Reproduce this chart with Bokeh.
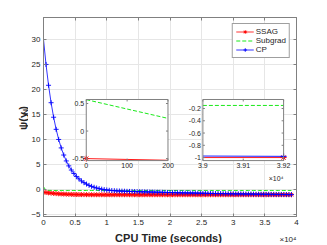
import math
import numpy as np
from bokeh.plotting import figure
from bokeh.layouts import row, column
from bokeh.models import Range1d, LinearAxis, FixedTicker, Legend, LegendItem
from bokeh.core.properties import value
from bokeh.embed import file_html
from bokeh.resources import INLINE

# ---------------- data ----------------
cpu_time = [0, 400, 800, 1200, 1600, 2000, 2400, 2800, 3200, 3600,
            4000, 4400, 4800, 5200, 5600, 6000, 6400, 6800, 7200, 7600,
            8000, 8400, 8800, 9200, 9600, 10000, 10400, 10800, 11200, 11600,
            12000, 12400, 12800, 13200, 13600, 14000, 14400, 14800, 15200, 15600,
            16000, 16400, 16800, 17200, 17600, 18000, 18400, 18800, 19200, 19600,
            20000, 20400, 20800, 21200, 21600, 22000, 22400, 22800, 23200, 23600,
            24000, 24400, 24800, 25200, 25600, 26000, 26400, 26800, 27200, 27600,
            28000, 28400, 28800, 29200, 29600, 30000, 30400, 30800, 31200, 31600,
            32000, 32400, 32800, 33200, 33600, 34000, 34400, 34800, 35200, 35600,
            36000, 36400, 36800, 37200, 37600, 38000, 38400, 38800, 39200]

ssag = [-0.50, -0.56, -0.63, -0.69, -0.74, -0.78, -0.82, -0.85, -0.88, -0.90,
        -0.92, -0.94, -0.95, -0.96, -0.97, -0.98, -0.98, -0.99, -0.99, -1.00,
        -1.00, -1.00, -1.00, -1.00, -1.00, -1.00, -1.00, -1.00, -1.00, -1.00,
        -1.00, -1.00, -1.00, -1.00, -1.00, -1.00, -1.00, -1.00, -1.00, -1.00,
        -1.00, -1.00, -1.00, -1.00, -1.00, -1.00, -1.00, -1.00, -1.00, -1.00,
        -1.00, -1.00, -1.00, -1.00, -1.00, -1.00, -1.00, -1.00, -1.00, -1.00,
        -1.00, -1.00, -1.00, -1.00, -1.00, -1.00, -1.00, -1.00, -1.00, -1.00,
        -1.00, -1.00, -1.00, -1.00, -1.00, -1.00, -1.00, -1.00, -1.00, -1.00,
        -1.00, -1.00, -1.00, -1.00, -1.00, -1.00, -1.00, -1.00, -1.00, -1.00,
        -1.00, -1.00, -1.00, -1.00, -1.00, -1.00, -1.00, -1.00, -1.00]

subgrad = [0.57, -0.11, -0.13, -0.14, -0.15, -0.15, -0.15, -0.15, -0.15, -0.15,
           -0.15, -0.15, -0.15, -0.15, -0.15, -0.15, -0.15, -0.15, -0.15, -0.15,
           -0.15, -0.15, -0.15, -0.15, -0.15, -0.15, -0.15, -0.15, -0.15, -0.15,
           -0.15, -0.15, -0.15, -0.15, -0.15, -0.15, -0.15, -0.15, -0.15, -0.15,
           -0.15, -0.15, -0.15, -0.15, -0.15, -0.15, -0.15, -0.15, -0.15, -0.15,
           -0.15, -0.15, -0.15, -0.15, -0.15, -0.15, -0.15, -0.15, -0.15, -0.15,
           -0.15, -0.15, -0.15, -0.15, -0.15, -0.15, -0.15, -0.15, -0.15, -0.15,
           -0.15, -0.15, -0.15, -0.15, -0.15, -0.15, -0.15, -0.15, -0.15, -0.15,
           -0.15, -0.15, -0.15, -0.15, -0.15, -0.15, -0.15, -0.15, -0.15, -0.15,
           -0.15, -0.15, -0.15, -0.15, -0.15, -0.15, -0.15, -0.15, -0.15]

cp = [30.00, 25.02, 20.86, 17.38, 14.48, 12.06, 10.04, 8.35, 6.93, 5.75,
      4.76, 3.93, 3.24, 2.65, 2.17, 1.75, 1.41, 1.12, 0.87, 0.67,
      0.49, 0.34, 0.21, 0.11, 0.02, -0.05, -0.11, -0.16, -0.20, -0.23,
      -0.26, -0.28, -0.30, -0.32, -0.34, -0.35, -0.37, -0.38, -0.40, -0.41,
      -0.43, -0.44, -0.46, -0.47, -0.49, -0.50, -0.51, -0.52, -0.54, -0.55,
      -0.56, -0.57, -0.58, -0.60, -0.61, -0.62, -0.63, -0.64, -0.65, -0.66,
      -0.67, -0.69, -0.70, -0.71, -0.72, -0.73, -0.74, -0.75, -0.76, -0.77,
      -0.77, -0.78, -0.79, -0.80, -0.81, -0.82, -0.83, -0.84, -0.84, -0.85,
      -0.86, -0.87, -0.87, -0.88, -0.89, -0.90, -0.90, -0.91, -0.91, -0.92,
      -0.93, -0.93, -0.94, -0.94, -0.95, -0.95, -0.96, -0.97, -0.98]

series_names = ["SSAG", "Subgrad", "CP"]

x_ticks = [0, 5000, 10000, 15000, 20000, 25000, 30000, 35000, 40000]
x_tick_labels = ["0", "0.5", "1", "1.5", "2", "2.5", "3", "3.5", "4"]
y_ticks = [-5, 0, 5, 10, 15, 20, 25, 30]
x_multiplier = "\u00d710\u2074"
x_title = "CPU Time (seconds)"
y_title_parts = ["\u03c8(y", "N", ")"]

main_xlim = [0, 40000]
main_ylim = [-5.35, 34.4]

inset1_xlim = [0, 200]
inset1_ylim = [-0.536, 0.573]
inset1_xticks = [0, 100, 200]
inset1_xtick_labels = ["0", "100", "200"]
inset1_yticks = [-0.5, 0, 0.5]
inset1_ytick_labels = ["-0.5", "0", "0.5"]

inset2_xlim = [39000, 39200]
inset2_ylim = [-1.049, -0.053]
inset2_xticks = [39000, 39100, 39200]
inset2_xtick_labels = ["3.9", "3.91", "3.92"]
inset2_yticks = [-1, -0.8, -0.6, -0.4, -0.2]
inset2_ytick_labels = ["-1", "-0.8", "-0.6", "-0.4", "-0.2"]

# ---------------- styling / layout ----------------
TOTAL_W = 325
YLAB_W = 28                 # strip holding the y title
XLAB_H = 13                 # strip holding the x title
MAIN_W, MAIN_H = TOTAL_W - YLAB_W, 230
BL, BR, BT, BB = 14, 29, 17, 14  # borders of the main figure
FW, FH = MAIN_W - BL - BR, MAIN_H - BT - BB
FL_ALL = YLAB_W + BL        # frame left in whole-page coords
AX = "#808080"
TXT = "#262626"
FONT = "Liberation Sans"
RED, GREEN, BLUE = "#ff0000", "#00e600", "#0000ff"

X0, X1 = main_xlim
Y0, Y1 = main_ylim

fig = figure(width=MAIN_W, height=MAIN_H, output_backend="svg", toolbar_location=None,
             x_range=Range1d(X0, X1), y_range=Range1d(Y0, Y1),
             min_border_left=BL, min_border_right=BR, min_border_top=BT,
             min_border_bottom=BB, background_fill_color="white",
             border_fill_color="white")
fig.outline_line_color = AX
fig.outline_line_width = 1

xa = fig.xaxis[0]
xa.ticker = FixedTicker(ticks=x_ticks)
xa.major_label_overrides = {t: s for t, s in zip(x_ticks, x_tick_labels)}
ya = fig.yaxis[0]
ya.ticker = FixedTicker(ticks=y_ticks)
for ax in (xa, ya):
    ax.axis_line_color = AX
    ax.major_tick_line_color = AX
    ax.major_tick_in = 3
    ax.major_tick_out = 0
    ax.minor_tick_line_color = None
    ax.major_label_text_font = FONT
    ax.major_label_text_font_size = "8px"
    ax.major_label_text_color = TXT
    ax.major_label_standoff = 3

fig.xgrid.ticker = FixedTicker(ticks=x_ticks)
fig.ygrid.ticker = FixedTicker(ticks=y_ticks)
fig.grid.grid_line_color = "#e6e6e6"
fig.grid.grid_line_width = 1

top_ax = LinearAxis(ticker=FixedTicker(ticks=x_ticks), major_tick_in=3, major_tick_out=0,
                    minor_tick_line_color=None, major_label_text_color=None,
                    major_label_text_font_size="1px", major_label_standoff=0,
                    axis_line_color=AX, major_tick_line_color=AX)
fig.add_layout(top_ax, "above")
right_ax = LinearAxis(ticker=FixedTicker(ticks=y_ticks), major_tick_in=3, major_tick_out=0,
                      minor_tick_line_color=None, major_label_text_color=None,
                      major_label_text_font_size="1px", major_label_standoff=0,
                      axis_line_color=AX, major_tick_line_color=AX)
fig.add_layout(right_ax, "right")

# ---------------- main series ----------------
r_red = fig.line(cpu_time, ssag, line_color=RED, line_width=0.8)
r_red_m = fig.scatter(cpu_time, ssag, marker="asterisk", size=5, line_color=RED, line_width=0.9)
r_green = fig.line(cpu_time, subgrad, line_color=GREEN, line_width=0.9, line_dash="4 2")
r_blue = fig.line(cpu_time, cp, line_color=BLUE, line_width=0.8)
r_blue_m = fig.scatter(cpu_time, cp, marker="cross", size=5, line_color=BLUE, line_width=0.9)

legend = Legend(items=[LegendItem(label=series_names[0], renderers=[r_red, r_red_m]),
                       LegendItem(label=series_names[1], renderers=[r_green]),
                       LegendItem(label=series_names[2], renderers=[r_blue, r_blue_m])],
                location="top_right")
legend.label_text_font = FONT
legend.label_text_font_size = "8px"
legend.label_text_color = TXT
legend.border_line_color = "#404040"
legend.border_line_width = 1
legend.background_fill_color = "white"
legend.background_fill_alpha = 1
legend.padding = 3
legend.spacing = 0
legend.margin = 6
legend.glyph_width = 18
legend.glyph_height = 9
legend.label_height = 9
legend.label_width = 10
legend.label_standoff = 2
fig.add_layout(legend)

# ---------------- insets ----------------
style = [(ssag, RED, "solid", "asterisk"), (subgrad, GREEN, "4 2", None), (cp, BLUE, "solid", "cross")]


def add_inset(key, box, xlim, ylim, xticks, xlabels, yticks, ylabels, mult=None):
    L, R, T, B = box[0] * FW, box[1] * FW, box[2] * FH, box[3] * FH
    ux = (xlim[1] - xlim[0]) / (R - L)
    uy = (ylim[1] - ylim[0]) / (B - T)
    fig.extra_x_ranges[key] = Range1d(xlim[0] - L * ux, xlim[1] + (FW - R) * ux)
    fig.extra_y_ranges[key] = Range1d(ylim[0] - (FH - B) * uy, ylim[1] + T * uy)
    kw = dict(x_range_name=key, y_range_name=key)
    fig.quad(left=[xlim[0]], right=[xlim[1]], bottom=[ylim[0]], top=[ylim[1]],
             fill_color="white", line_color=None, **kw)
    t = np.asarray(cpu_time, float)
    for vals, color, dash, marker in style:
        v = np.asarray(vals, float)
        inside = (t > xlim[0]) & (t < xlim[1])
        bx = np.concatenate([[xlim[0]], t[inside], [xlim[1]]])
        by = np.interp(bx, t, v)
        if by.min() > ylim[1] or by.max() < ylim[0]:
            continue
        fig.line(bx, by, line_color=color, line_dash=dash, line_width=0.9, **kw)
        if marker:
            m = (t >= xlim[0]) & (t <= xlim[1]) & (v >= ylim[0]) & (v <= ylim[1])
            if m.any():
                fig.scatter(t[m], v[m], marker=marker, size=6, line_color=color, line_width=1, **kw)
    fig.quad(left=[xlim[0]], right=[xlim[1]], bottom=[ylim[0]], top=[ylim[1]],
             fill_color=None, line_color=AX, line_width=1, **kw)
    tx, ty = 2 * ux, 2 * uy
    nx, ny = len(xticks), len(yticks)
    fig.segment(x0=xticks, y0=[ylim[0]] * nx, x1=xticks, y1=[ylim[0] + ty] * nx, line_color=AX, **kw)
    fig.segment(x0=xticks, y0=[ylim[1]] * nx, x1=xticks, y1=[ylim[1] - ty] * nx, line_color=AX, **kw)
    fig.segment(x0=[xlim[0]] * ny, y0=yticks, x1=[xlim[0] + tx] * ny, y1=yticks, line_color=AX, **kw)
    fig.segment(x0=[xlim[1]] * ny, y0=yticks, x1=[xlim[1] - tx] * ny, y1=yticks, line_color=AX, **kw)
    tk = dict(text_font=value(FONT), text_font_size="7px", text_color=TXT)
    fig.text(x=xticks, y=[ylim[0]] * nx, text=xlabels, y_offset=2, text_align="center",
             text_baseline="top", **tk, **kw)
    fig.text(x=[xlim[0]] * ny, y=yticks, text=ylabels, x_offset=-2, text_align="right",
             text_baseline="middle", **tk, **kw)
    if mult:
        fig.text(x=[xlim[1]], y=[ylim[0]], text=[mult], y_offset=18, text_align="right",
                 text_baseline="middle", **tk, **kw)


add_inset("i1", (0.169, 0.492, 0.412, 0.719), inset1_xlim, inset1_ylim,
          inset1_xticks, inset1_xtick_labels, inset1_yticks, inset1_ytick_labels)
add_inset("i2", (0.630, 0.949, 0.412, 0.719), inset2_xlim, inset2_ylim,
          inset2_xticks, inset2_xtick_labels, inset2_yticks, inset2_ytick_labels, x_multiplier)


# ---------------- axis titles (strips beside the main figure) ----------------
def strip(w, h):
    s = figure(width=w, height=h, output_backend="svg", toolbar_location=None,
               x_range=Range1d(0, w), y_range=Range1d(0, h),
               x_axis_location=None, y_axis_location=None,
               min_border=0, background_fill_color="white", border_fill_color="white")
    s.outline_line_color = None
    s.grid.visible = False
    return s


ylab = strip(YLAB_W, MAIN_H)
title_kw = dict(text_font=value(FONT), text_font_style="bold", text_color=TXT,
                angle=math.pi / 2, text_align="left", text_baseline="alphabetic")
ylab.text(x=[22], y=[MAIN_H - 130], text=[y_title_parts[0]], text_font_size="11px", **title_kw)
ylab.text(x=[24.5], y=[MAIN_H - 112.5], text=[y_title_parts[1]], text_font_size="8px", **title_kw)
ylab.text(x=[22], y=[MAIN_H - 106.7], text=[y_title_parts[2]], text_font_size="11px", **title_kw)

xlab = strip(TOTAL_W, XLAB_H)
xlab.text(x=[FL_ALL + FW / 2 - 1], y=[XLAB_H - 7], text=[x_title], text_font=value(FONT),
          text_font_size="11px", text_font_style="bold", text_color=TXT,
          text_align="center", text_baseline="middle")
xlab.text(x=[FL_ALL + FW], y=[XLAB_H - 9], text=[x_multiplier], text_font=value(FONT),
          text_font_size="8px", text_color=TXT, text_align="right", text_baseline="middle")

p = column(row(ylab, fig), xlab)

open("out.html", "w").write(file_html(p, INLINE))
